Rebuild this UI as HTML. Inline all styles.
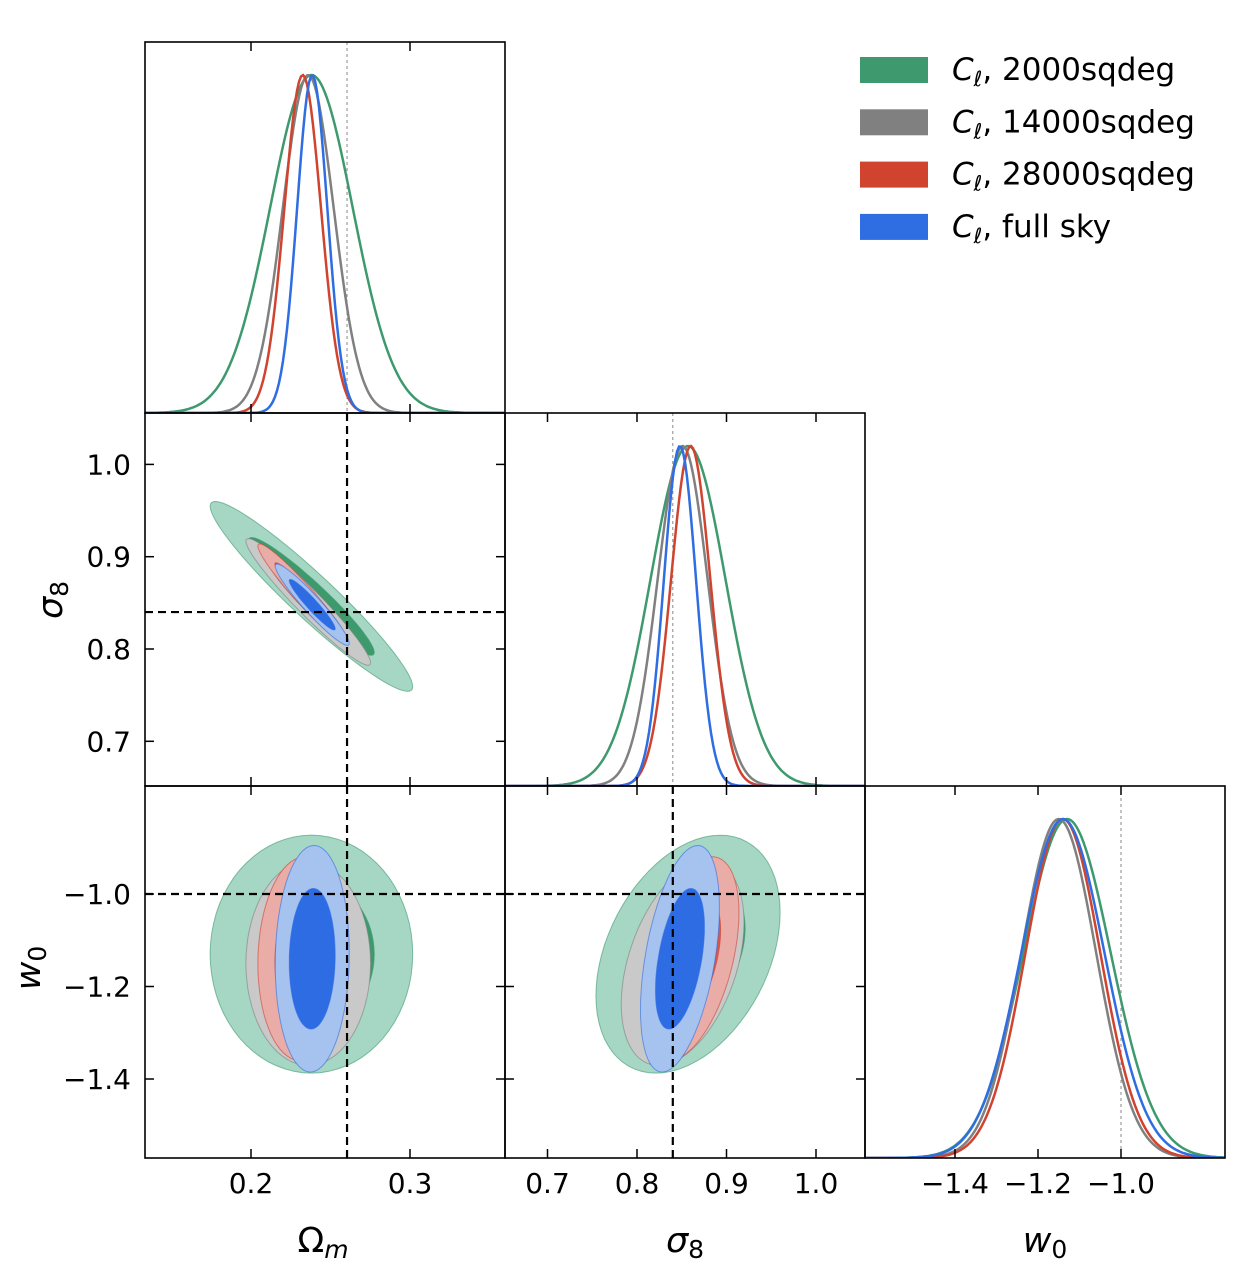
<!DOCTYPE html>
<html><head><meta charset="utf-8"><style>
body{margin:0;background:#fff}
svg{display:block;font-family:"DejaVu Sans","Liberation Sans",sans-serif}
</style></head><body>
<svg id="chart" width="1234" height="1272" viewBox="0 0 1234 1272" xmlns="http://www.w3.org/2000/svg">
<g id="marks"></g>
<g id="frames"></g>
<g id="texts"></g>
</svg>
<script>
// ---- data ----
const seriesNames = ["C_l 2000sqdeg","C_l 14000sqdeg","C_l 28000sqdeg","C_l full sky"];
const lineColors = ["#3e9a6e","#808080","#d0432f","#2f6de3"];
const lightFill = ["#a6d6c4","#c9c9c9","#eaaca6","#a6c3f0"];
const darkFill = ["#3d9a6c","#8a8a8a","#d8594a","#2d6ce3"];
const omMean = [0.238, 0.236, 0.2325, 0.2385];
const omSigma = [0.026, 0.016, 0.0115, 0.0095];
const s8Mean = [0.857, 0.851, 0.860, 0.848];
const s8Sigma = [0.042, 0.028, 0.022, 0.018];
const w0Mean = [-1.13, -1.15, -1.14, -1.14];
const w0Sigma = [0.105, 0.09, 0.09, 0.1];
const corrOmS8 = [-0.95, -0.96, -0.96, -0.95];
const corrOmW0 = [0.0, 0.0, 0.05, 0.05];
const corrS8W0 = [0.35, 0.4, 0.45, 0.45];
const truth = {om:0.2604, s8:0.84, w0:-1.0};
const omTicks = [0.2, 0.3];
const s8Ticks = [0.7, 0.8, 0.9, 1.0];
const w0Ticks = [-1.4, -1.2, -1.0];
const fmt = v => (v<0?"\u2212":"")+Math.abs(v).toFixed(1);

// ---- axes ----
const col = [145,505,865,1225];
const row = [42,413,786,1158];
const xOm = v => 251 + (v-0.2)*1590;
const xS8 = v => 637 + (v-0.8)*895;
const yS8 = v => 649 - (v-0.8)*923;
const xW0 = v => 1121 + (v+1.0)*415;
const yW0 = v => 894 - (v+1.0)*462.5;

const NS="http://www.w3.org/2000/svg";
const marks=document.getElementById('marks'), frames=document.getElementById('frames'), texts=document.getElementById('texts');
function mk(tag, attrs, parent){const e=document.createElementNS(NS,tag);for(const k in attrs)e.setAttribute(k,attrs[k]);parent.appendChild(e);return e;}

function clipFor(id,x0,y0,x1,y1){
  let defs=document.querySelector('defs')||mk('defs',{},document.getElementById('chart'));
  const c=mk('clipPath',{id:id},defs);mk('rect',{x:x0,y:y0,width:x1-x0,height:y1-y0},c);
}
function inv(f,px){const a=f(0),b=f(1);return (px-a)/(b-a);}

function panel1D(means,sigmas,xf,x0,x1,y0,y1,name,truthV){
  clipFor(name+'c',x0,y0,x1,y1);
  const g=mk('g',{'clip-path':'url(#'+name+'c)'},marks);
  
  
  const tx=xf(truthV);
  const tl=mk('line',{x1:tx,x2:tx,y1:y0,y2:y1,stroke:'#888','stroke-width':1,'stroke-dasharray':'3,3'},g);
  
  
  const peakY=y0+33, base=y1;
  for(let i=0;i<means.length;i++){
    let d='';
    for(let px=x0;px<=x1;px+=2){
      const v=inv(xf,px);
      const z=(v-means[i])/sigmas[i];
      const y=base-(base-peakY)*Math.exp(-0.5*z*z);
      d+=(d?'L':'M')+px+','+y.toFixed(1);
    }
    const p=mk('path',{d:d,fill:'none',stroke:lineColors[i],'stroke-width':2.5},g);
    
    
  }
}

function panel2D(mx,sx,my,sy,rho,xf,yf,x0,x1,y0,y1,name,tx,ty){
  clipFor(name+'c',x0,y0,x1,y1);
  const g=mk('g',{'clip-path':'url(#'+name+'c)'},marks);
  
  
  for(let i=0;i<mx.length;i++){
    [[2.45,lightFill[i]],[1.52,darkFill[i]]].forEach(([k,fill],j)=>{
      const r=rho[i];
      let d='';
      for(let t=0;t<=72;t++){
        const a=t/72*2*Math.PI;
        const u=Math.cos(a), w=Math.sin(a);
        const vx=mx[i]+k*sx[i]*u;
        const vy=my[i]+k*sy[i]*(r*u+Math.sqrt(1-r*r)*w);
        d+=(d?'L':'M')+xf(vx).toFixed(1)+','+yf(vy).toFixed(1);
      }
      const p=mk('path',{d:d+'Z',fill:fill,stroke:lineColors[i],'stroke-width':1,'stroke-opacity':0.6},g);
      
      
    });
  }
  const a=mk('line',{x1:xf(tx),x2:xf(tx),y1:y0,y2:y1,stroke:'#000','stroke-width':2.2,'stroke-dasharray':'8,5'},g);
  
  
  const b=mk('line',{x1:x0,x2:x1,y1:yf(ty),y2:yf(ty),stroke:'#000','stroke-width':2.2,'stroke-dasharray':'8,5'},g);
  
  
}

panel1D(omMean,omSigma,xOm,col[0],col[1],row[0],row[1],'omega-m-1d',truth.om);
panel1D(s8Mean,s8Sigma,xS8,col[1],col[2],row[1],row[2],'sigma8-1d',truth.s8);
panel1D(w0Mean,w0Sigma,xW0,col[2],col[3],row[2],row[3],'w0-1d',truth.w0);
panel2D(omMean,omSigma,s8Mean,s8Sigma,corrOmS8,xOm,yS8,col[0],col[1],row[1],row[2],'omega-sigma8-2d',truth.om,truth.s8);
panel2D(omMean,omSigma,w0Mean,w0Sigma,corrOmW0,xOm,yW0,col[0],col[1],row[2],row[3],'omega-w0-2d',truth.om,truth.w0);
panel2D(s8Mean,s8Sigma,w0Mean,w0Sigma,corrS8W0,xS8,yW0,col[1],col[2],row[2],row[3],'sigma8-w0-2d',truth.s8,truth.w0);

function frame(x0,y0,x1,y1,name,xt,xf,yt,yf){
  const r=mk('rect',{x:x0,y:y0,width:x1-x0,height:y1-y0,fill:'none',stroke:'#000','stroke-width':1.6},frames);
  
  
  (xt||[]).forEach(v=>{const x=xf(v);mk('line',{x1:x,x2:x,y1:y1,y2:y1-9,stroke:'#000','stroke-width':1.5},frames);mk('line',{x1:x,x2:x,y1:y0,y2:y0+9,stroke:'#000','stroke-width':1.5},frames);});
  (yt||[]).forEach(v=>{const y=yf(v);mk('line',{x1:x0,x2:x0+9,y1:y,y2:y,stroke:'#000','stroke-width':1.5},frames);mk('line',{x1:x1,x2:x1-9,y1:y,y2:y,stroke:'#000','stroke-width':1.5},frames);});
}
frame(col[0],row[0],col[1],row[1],'omega-m-1d',omTicks,xOm);
frame(col[1],row[1],col[2],row[2],'sigma8-1d',s8Ticks,xS8);
frame(col[2],row[2],col[3],row[3],'w0-1d',w0Ticks,xW0);
frame(col[0],row[1],col[1],row[2],'omega-sigma8-2d',omTicks,xOm,s8Ticks,yS8);
frame(col[0],row[2],col[1],row[3],'omega-w0-2d',omTicks,xOm,w0Ticks,yW0);
frame(col[1],row[2],col[2],row[3],'sigma8-w0-2d',s8Ticks,xS8,w0Ticks,yW0);

function txt(s,x,y,attrs,name){const t=mk('text',Object.assign({x:x,y:y,'font-size':28,fill:'#000'},attrs||{}),texts);t.textContent=s;
  
  return t;}
omTicks.forEach(v=>txt(fmt(v),xOm(v),1193,{'text-anchor':'middle'},'x-tick-omega'));
s8Ticks.forEach(v=>txt(fmt(v),xS8(v),1193,{'text-anchor':'middle'},'x-tick-sigma8'));
w0Ticks.forEach(v=>txt(fmt(v),xW0(v),1193,{'text-anchor':'middle'},'x-tick-w0'));
s8Ticks.forEach(v=>txt(fmt(v),131,yS8(v)+10,{'text-anchor':'end'},'y-tick-sigma8'));
w0Ticks.forEach(v=>txt(fmt(v),131,yW0(v)+10,{'text-anchor':'end'},'y-tick-w0'));

let t=txt('',323,1252,{'text-anchor':'middle','font-size':35},'x-axis-title-omega');
t.innerHTML='Ω<tspan font-style="italic" font-size="25" dy="6">m</tspan>';
t=txt('',685,1252,{'text-anchor':'middle','font-size':35},'x-axis-title-sigma8');
t.innerHTML='<tspan font-style="italic">σ</tspan><tspan font-size="25" dy="6">8</tspan>';
t=txt('',1045,1252,{'text-anchor':'middle','font-size':35},'x-axis-title-w0');
t.innerHTML='<tspan font-style="italic">w</tspan><tspan font-size="25" dy="6">0</tspan>';
t=txt('',62,600,{'text-anchor':'middle','font-size':35,transform:'rotate(-90 62 600)'},'y-axis-title-sigma8');
t.innerHTML='<tspan font-style="italic">σ</tspan><tspan font-size="25" dy="6">8</tspan>';
t=txt('',40,968,{'text-anchor':'middle','font-size':35,transform:'rotate(-90 40 968)'},'y-axis-title-w0');
t.innerHTML='<tspan font-style="italic">w</tspan><tspan font-size="25" dy="6">0</tspan>';

const legendLabels=["2000sqdeg","14000sqdeg","28000sqdeg","full sky"];
legendLabels.forEach((s,i)=>{
  const y=70+i*52.3;
  const r=mk('rect',{x:860,y:y-13,width:68,height:26,fill:lineColors[i]},texts);
  
  
  const tt=txt('',952,y+10,{'font-size':31},'legend-entry-'+i);
  tt.innerHTML='<tspan font-style="italic">C</tspan><tspan font-style="italic" font-size="21" dy="6">ℓ</tspan><tspan dy="-6">, '+s+'</tspan>';
});
</script>
</body></html>
